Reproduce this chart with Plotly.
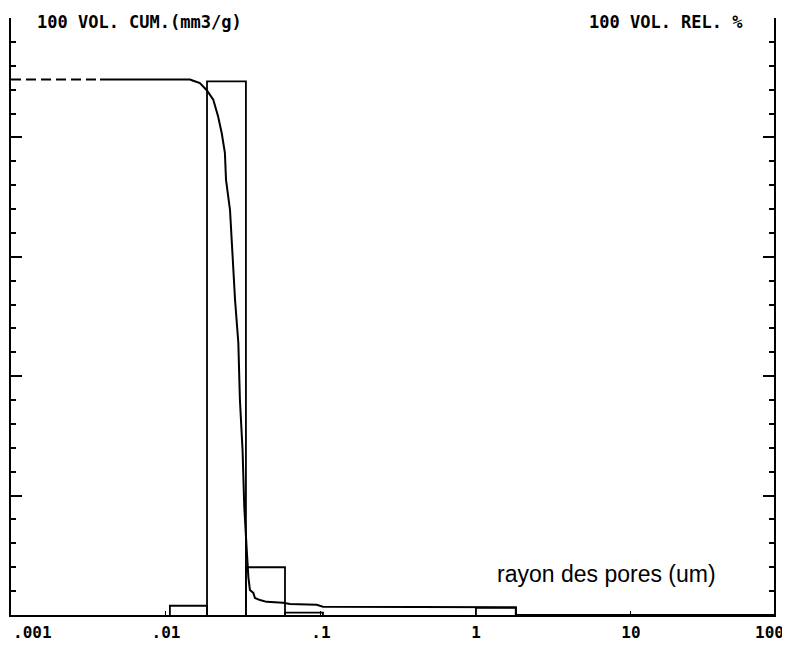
import math
import plotly.graph_objects as go

# ---- data ----
# cumulative intruded volume (left axis, 0-100) vs pore radius (um)
cum_radius = [0.001, 0.00375, 0.0143, 0.0150, 0.01656, 0.01832, 0.02019, 0.0217,
              0.0229, 0.0240, 0.0244, 0.0259, 0.0268, 0.0279, 0.0293, 0.0300,
              0.0312, 0.0320, 0.0332, 0.0340, 0.0348, 0.0366, 0.0375, 0.0404,
              0.0446, 0.0569, 0.0631, 0.0938, 0.1030, 1.81, 1.81, 100]
cum_volume = [89.7, 89.7, 89.7, 89.5, 89.1, 87.9, 86.3, 83.5,
              80.7, 77.4, 72.9, 67.8, 61.1, 52.8, 45.6, 36.0,
              27.6, 18.1, 10.9, 6.4, 4.2, 3.7, 2.85, 2.5,
              2.2, 2.05, 1.85, 1.7, 1.4, 1.3, 0, 0]
dashed_points = 2  # first segment printed dashed

# relative volume histogram (right axis, 0-100)
bin_edges = [0.0106, 0.0184, 0.0328, 0.0586, 0.103, 0.183, 0.326, 0.58, 1.0, 1.81]
rel_volume = [1.55, 89.4, 8.0, 0.4, 0, 0, 0, 0, 1.2]

x_tickvals = [0.01, 0.1, 1, 10]
x_ticktext = [".01", ".1", "1", "10"]
x_edge_labels = [".001", "100"]
x_range_max = 83.8

left_title = "100 VOL. CUM.(mm3/g)"
right_title = "100 VOL. REL. %"
x_title = "rayon des pores (um)"

# ---- build histogram outline ----
hx, hy = [], []
for e0, e1, v in zip(bin_edges[:-1], bin_edges[1:], rel_volume):
    if v <= 0:
        continue
    hx += [e0, e0, e1, e1, None]
    hy += [0, v, v, 0, None]

mono = "DejaVu Sans Mono"
fig = go.Figure()
fig.add_trace(go.Scatter(x=hx, y=hy, mode="lines", yaxis="y2",
                         line=dict(color="black", width=1.8), hoverinfo="skip"))
fig.add_trace(go.Scatter(x=cum_radius[:dashed_points], y=cum_volume[:dashed_points],
                         mode="lines", line=dict(color="black", width=2, dash="10px,5px")))
fig.add_trace(go.Scatter(x=cum_radius[dashed_points - 1:], y=cum_volume[dashed_points - 1:],
                         mode="lines", line=dict(color="black", width=2)))

yax = dict(range=[0, 100], showgrid=False, zeroline=False, showline=True,
           linecolor="black", linewidth=2, ticks="inside", dtick=20, tick0=0,
           ticklen=11, tickwidth=2, tickcolor="black", showticklabels=False,
           minor=dict(dtick=4, tick0=0, ticks="inside", ticklen=5, tickwidth=1.5,
                      tickcolor="black", showgrid=False))

# the page body adds an 8px offset, so the figure is 8px smaller than the window
fig.update_layout(
    width=782, height=637, autosize=False,
    margin=dict(l=3, r=16, t=10, b=30),
    paper_bgcolor="white", plot_bgcolor="white",
    showlegend=False,
    xaxis=dict(type="log", range=[-3, math.log10(x_range_max)],
               tickvals=x_tickvals, ticktext=x_ticktext,
               showgrid=False, zeroline=False, showline=True,
               linecolor="black", linewidth=2, ticks="inside", ticklen=4,
               tickcolor="black", ticklabelstandoff=2,
               tickfont=dict(family=mono, size=16, color="black", weight="bold")),
    yaxis=yax,
    yaxis2=dict(yax, overlaying="y", side="right"),
)

ann_font = dict(family=mono, size=17, color="black", weight="bold")
fig.add_annotation(text=left_title, xref="paper", yref="paper", x=0.0315, y=0.993,
                   xanchor="left", yanchor="middle", showarrow=False, font=ann_font)
fig.add_annotation(text=right_title, xref="paper", yref="paper", x=0.962, y=0.993,
                   xanchor="right", yanchor="middle", showarrow=False, font=ann_font)
tick_font = dict(family=mono, size=16, color="black", weight="bold")
fig.add_annotation(text=x_edge_labels[0], xref="paper", yref="paper", x=0, y=-0.030,
                   xanchor="left", yanchor="middle", showarrow=False, font=tick_font)
fig.add_annotation(text=x_edge_labels[1], xref="paper", yref="paper", x=1.016, y=-0.030,
                   xanchor="right", yanchor="middle", showarrow=False, font=tick_font)
fig.add_annotation(text=x_title, xref="paper", yref="paper", x=0.634, y=0.0687,
                   xanchor="left", yanchor="middle", showarrow=False,
                   font=dict(family="Liberation Sans", size=23, color="black"))

fig.write_html("out.html")
